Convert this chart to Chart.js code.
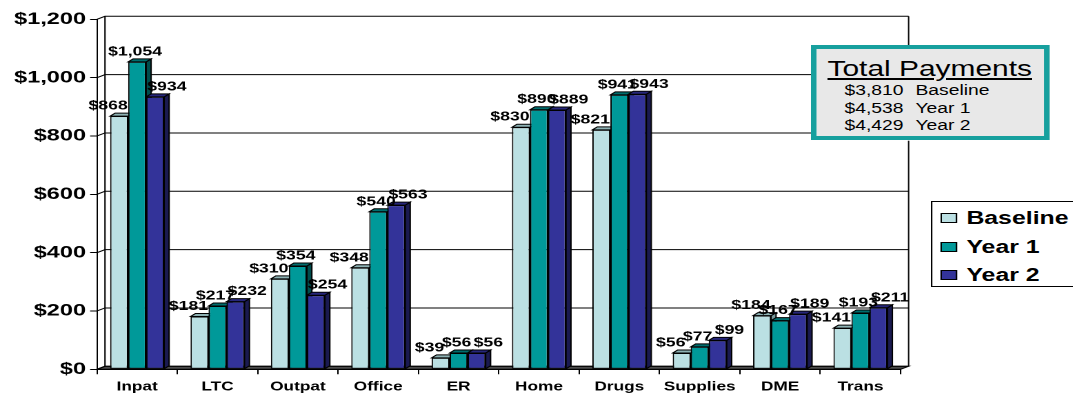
<!DOCTYPE html>
<html>
<head>
<meta charset="utf-8">
<script src="https://cdn.jsdelivr.net/npm/chart.js@4.4.0/dist/chart.umd.min.js"></script>
<style>
  html, body { margin: 0; padding: 0; background: #fff; overflow: hidden; }
  /* the source picture is horizontally stretched, so draw narrow and stretch */
  #wrap { position: absolute; left: 0; top: 0; width: 778px; height: 394px;
          transform: scaleX(1.3792); transform-origin: 0 0; }
  #chart-box { position: absolute; left: 0; top: 0; width: 778px; height: 394px; }
  #totals { position: absolute; left: 588.4px; top: 45px; width: 172.5px; height: 95px;
            box-sizing: border-box; border: 4px solid #17a09e; background: #e8e8e8;
            font-family: "Liberation Sans", Arial, sans-serif; color: #000; }
  #totals div { position: absolute; white-space: nowrap; }
  #totals .title { left: 7.6px; top: 8.8px; font-size: 21.7px; line-height: 21.7px; text-decoration: underline; }
  #totals .row { font-size: 14px; line-height: 14px; }
  #legend { position: absolute; left: 675.4px; top: 201px; width: 106px; height: 86px;
            box-sizing: border-box; border: 1px solid #000; background: #fff;
            font-family: "Liberation Sans", Arial, sans-serif; font-weight: bold; font-size: 18px; }
  #legend .item { position: absolute; left: 0; white-space: nowrap; line-height: 18px; }
  #legend .sw { position: absolute; left: 6px; width: 12px; height: 10px; box-sizing: border-box; border: 1px solid #000; }
  #legend .txt { position: absolute; left: 24.3px; top: 0; }
</style>
</head>
<body>
<div id="wrap">
  <div id="chart-box"><canvas id="paymentsChart"></canvas></div>
  <div id="totals"></div>
  <div id="legend"></div>
</div>
<script>
const categories = ['Inpat', 'LTC', 'Outpat', 'Office', 'ER', 'Home', 'Drugs', 'Supplies', 'DME', 'Trans'];
const seriesNames = ['Baseline', 'Year 1', 'Year 2'];
const baseline = [868, 181, 310, 348, 39, 830, 821, 56, 184, 141];
const year1 = [1054, 217, 354, 540, 56, 890, 941, 77, 167, 193];
const year2 = [934, 232, 254, 563, 56, 889, 943, 99, 189, 211];
const totalPayments = [3810, 4538, 4429];
const yTicks = [0, 200, 400, 600, 800, 1000, 1200];

const frontColors = ['#bbe0e3', '#009999', '#333399'];
const topColors = ['#8db1b3', '#006d6d', '#26267a'];
const sideColors = ['#78999b', '#004c4c', '#1a1a50'];

const money = v => '$' + v.toLocaleString('en-US');

// 3D walls and floor behind the bars
const wallPlugin = {
    id: 'walls',
    beforeDatasetsDraw(chart) {
        const ctx = chart.ctx;
        const { left, right, top, bottom } = chart.chartArea;
        const dx = 5.8, dy = -3;
        const y = chart.scales.y;
        ctx.save();
        ctx.strokeStyle = '#000';
        ctx.lineWidth = 1;
        // floor
        ctx.beginPath();
        ctx.moveTo(left, bottom);
        ctx.lineTo(right, bottom);
        ctx.lineTo(right + dx, bottom + dy);
        ctx.lineTo(left + dx, bottom + dy);
        ctx.closePath();
        ctx.fillStyle = '#4a4a4a';
        ctx.fill();
        ctx.stroke();
        // grid on back wall
        yTicks.forEach(v => {
            const py = y.getPixelForValue(v);
            ctx.beginPath();
            ctx.moveTo(left, py);
            ctx.lineTo(left + dx, py + dy);
            ctx.lineTo(right + dx, py + dy);
            ctx.stroke();
        });
        ctx.beginPath();
        ctx.moveTo(left + dx, top + dy);
        ctx.lineTo(left + dx, bottom + dy);
        ctx.moveTo(right + dx, top + dy);
        ctx.lineTo(right + dx, bottom + dy);
        ctx.stroke();
        // bar tops and sides, front faces come after
        const bdx = 3.6, bdy = -3;
        chart.data.datasets.forEach((ds, i) => {
            chart.getDatasetMeta(i).data.forEach(bar => {
                const l = bar.x - bar.width / 2, r = bar.x + bar.width / 2;
                ctx.beginPath();
                ctx.moveTo(r, bar.y);
                ctx.lineTo(r + bdx, bar.y + bdy);
                ctx.lineTo(r + bdx, bar.base + bdy);
                ctx.lineTo(r, bar.base);
                ctx.closePath();
                ctx.fillStyle = sideColors[i];
                ctx.fill();
                ctx.stroke();
                ctx.beginPath();
                ctx.moveTo(l, bar.y);
                ctx.lineTo(l + bdx, bar.y + bdy);
                ctx.lineTo(r + bdx, bar.y + bdy);
                ctx.lineTo(r, bar.y);
                ctx.closePath();
                ctx.fillStyle = topColors[i];
                ctx.fill();
                ctx.stroke();
            });
        });
        ctx.restore();
    }
};

const labelPlugin = {
    id: 'valueLabels',
    afterDatasetsDraw(chart) {
        const ctx = chart.ctx;
        const shift = [-8, -1.5, 8.5];
        ctx.save();
        ctx.font = 'bold 12.8px "Liberation Sans", Arial, sans-serif';
        ctx.fillStyle = '#000';
        ctx.textAlign = 'center';
        ctx.textBaseline = 'middle';
        chart.data.datasets.forEach((ds, i) => {
            chart.getDatasetMeta(i).data.forEach((bar, j) => {
                ctx.fillText(money(ds.data[j]), bar.x + shift[i], bar.y - 10);
            });
        });
        ctx.restore();
    }
};

const ctx = document.getElementById('paymentsChart').getContext('2d');
const paymentsChart = new Chart(ctx, {
    type: 'bar',
    data: {
        labels: categories,
        datasets: [baseline, year1, year2].map((vals, i) => ({
            label: seriesNames[i],
            data: vals,
            backgroundColor: frontColors[i],
            borderColor: '#000',
            borderWidth: 1,
            borderSkipped: false,
            categoryPercentage: 0.672,
            barPercentage: 1
        }))
    },
    options: {
        responsive: true,
        maintainAspectRatio: false,
        devicePixelRatio: 2,
        animation: false,
        layout: { padding: { top: 19.3, right: 125, left: 0, bottom: 0 } },
        plugins: {
            legend: { display: false },
            tooltip: { enabled: false }
        },
        scales: {
            x: {
                afterFit(scale) { scale.height = 24.7; },
                grid: { display: true, drawOnChartArea: false, drawTicks: true, tickLength: 5, color: '#000' },
                border: { display: true, color: '#000' },
                ticks: {
                    color: '#000',
                    padding: 5,
                    font: { family: '"Liberation Sans", Arial, sans-serif', size: 12.5, weight: 'bold' }
                }
            },
            y: {
                min: 0,
                max: 1200,
                afterFit(scale) { scale.width = 70.3; },
                grid: { display: true, drawOnChartArea: false, drawTicks: true, tickLength: 5, color: '#000' },
                border: { display: true, color: '#000' },
                ticks: {
                    stepSize: 200,
                    color: '#000',
                    padding: 3,
                    callback: v => money(v),
                    font: { family: '"Liberation Sans", Arial, sans-serif', size: 17, weight: 'bold' }
                }
            }
        }
    },
    plugins: [wallPlugin, labelPlugin]
});

// Total payments box
const totals = document.getElementById('totals');
let html = '<div class="title">Total Payments</div>';
const rowTops = [34.2, 52.4, 69.2];
totalPayments.forEach((t, i) => {
    html += '<div class="row" style="left:19.9px;top:' + rowTops[i] + 'px">' + money(t) + '</div>';
    html += '<div class="row" style="left:71.4px;top:' + rowTops[i] + 'px">' + seriesNames[i] + '</div>';
});
totals.innerHTML = html;

// legend built from the chart's datasets
const legend = document.getElementById('legend');
const itemTops = [7.1, 35.5, 63.8];
paymentsChart.data.datasets.forEach((ds, i) => {
    const item = document.createElement('div');
    item.className = 'item';
    item.style.top = itemTops[i] + 'px';
    item.innerHTML = '<span class="sw" style="top:4px;background:' + ds.backgroundColor + '"></span>' +
        '<span class="txt">' + ds.label + '</span>';
    legend.appendChild(item);
});
</script>
</body>
</html>
